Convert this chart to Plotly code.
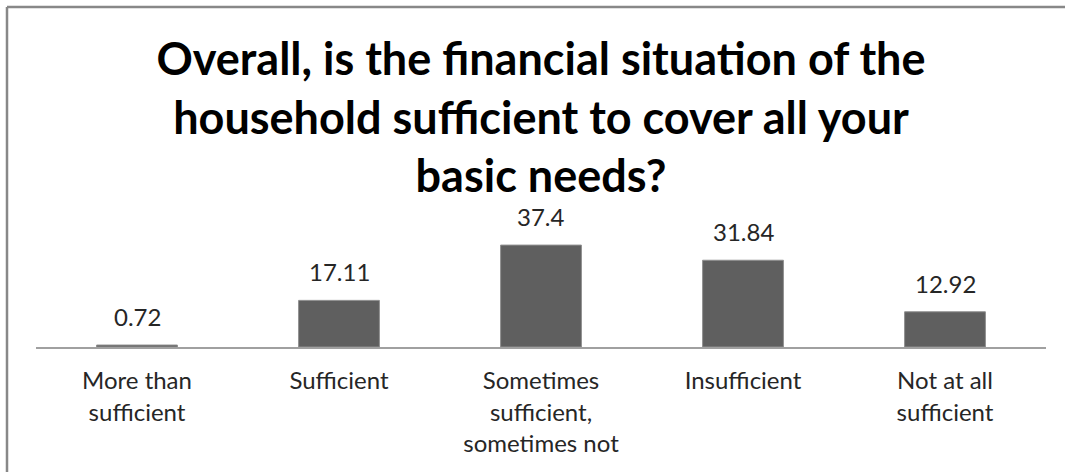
import plotly.graph_objects as go

categories = ["More than<br>sufficient", "Sufficient", "Sometimes<br>sufficient,<br>sometimes not",
              "Insufficient", "Not at all<br>sufficient"]
values = [0.72, 17.11, 37.4, 31.84, 12.92]
value_labels = ["0.72", "17.11", "37.4", "31.84", "12.92"]
title_text = "Overall, is the financial situation of the<br>household sufficient to cover all your<br>basic needs?"

W, H = 1065, 472
ML, MR, MT, MB = 36, 19, 238, 125
pw, ph = W - ML - MR, H - MT - MB

fig = go.Figure()
fig.add_trace(go.Bar(
    x=categories, y=values,
    marker=dict(color="#5f5f5f", line=dict(color="#8f8f8f", width=1)),
    width=0.4, hoverinfo="skip",
))

for c, v, t in zip(categories, values, value_labels):
    fig.add_annotation(x=c, y=v, text=t, showarrow=False, yanchor="bottom",
                       yshift=12, font=dict(family="Lato", size=24, color="#262626"))

# outer frame of the chart: only top and left edges are visible in the picture
fx0 = (7 - ML) / pw
fy1 = (H - MB - 7) / ph
frame = dict(color="#888888", width=2.5)
fig.add_shape(type="line", xref="paper", yref="paper", x0=fx0, x1=(W - ML) / pw,
              y0=fy1, y1=fy1, line=frame, layer="below")
fig.add_shape(type="line", xref="paper", yref="paper", x0=fx0, x1=fx0,
              y0=(H - MB - H) / ph, y1=fy1, line=frame, layer="below")

fig.update_layout(
    width=W, height=H,
    margin=dict(l=ML, r=MR, t=MT, b=MB, pad=0, autoexpand=False),
    paper_bgcolor="white", plot_bgcolor="white",
    showlegend=False, hovermode=False, dragmode=False,
    title=dict(text=title_text, x=0.5, xref="paper", xanchor="center",
               y=1 - 75 / H, yref="container", yanchor="middle",
               font=dict(family="Lato", size=45, color="#000000", weight="bold")),
    xaxis=dict(showline=True, linecolor="#a0a0a0", linewidth=1.5, showgrid=False,
               ticks="outside", ticklen=12, tickcolor="rgba(0,0,0,0)", automargin=False,
               tickfont=dict(family="Lato", size=24, color="#262626"), fixedrange=True),
    yaxis=dict(range=[0, 40], visible=False, fixedrange=True, automargin=False),
)

fig.write_html("out.html", config={"displayModeBar": False, "staticPlot": True},
               post_script=("document.body.style.margin='0px';"
                            "document.body.style.overflow='hidden';"
                            "document.documentElement.style.overflow='hidden';"))
